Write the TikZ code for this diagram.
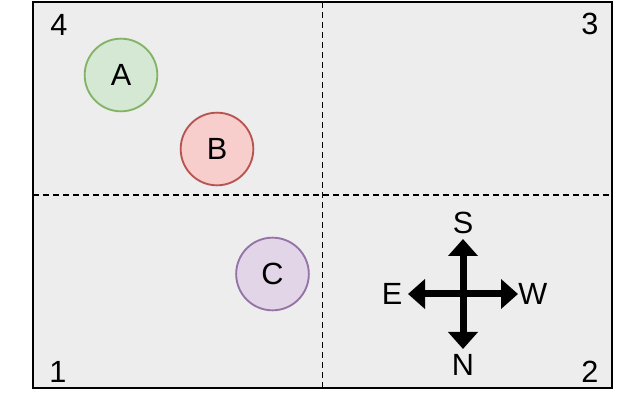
\documentclass[tikz,border=0pt]{standalone}
\usepackage{fontspec}
\setmainfont{Liberation Sans}
\usepackage{xcolor}
\usetikzlibrary{positioning}
\usetikzlibrary{arrows.meta}

\definecolor{fieldgray}{HTML}{EDEDED}
\definecolor{greenfill}{HTML}{D5E8D4}
\definecolor{greendraw}{HTML}{82B366}
\definecolor{redfill}{HTML}{F8CECC}
\definecolor{reddraw}{HTML}{B85450}
\definecolor{purplefill}{HTML}{E1D5E7}
\definecolor{purpledraw}{HTML}{9673A6}

\tikzset{
  obj/.style={circle, line width=1.4pt, minimum size=54.5pt, inner sep=0pt,
    font=\fontsize{23}{27}\selectfont},
  lbl/.style={inner sep=0pt, font=\fontsize{23}{27}\selectfont},
  divider/.style={dash pattern=on 4.5pt off 3pt, line width=1.1pt},
  compass/.style={line width=5.25pt,
    {Triangle[length=12.75pt,width=21.75pt]}-{Triangle[length=12.75pt,width=21.75pt]}},
}

\begin{document}
\begin{tikzpicture}[x=0.75pt, y=-0.75pt]
\useasboundingbox (0,0) rectangle (640,417);

% the field and its four quadrants
\draw[fill=fieldgray, line width=1.5pt] (33,2) rectangle (612,388);
\draw[divider] (322.5,2) -- (322.5,388);
\draw[divider] (33,195) -- (612,195);

% quadrant numbers
\node[lbl] (q4) at (59, 25)  {4};
\node[lbl] (q3) at (590, 24) {3};
\node[lbl] (q1) at (58, 372) {1};
\node[lbl] (q2) at (590, 372) {2};

% objects
\node[obj, draw=greendraw, fill=greenfill]   (objA) at (121, 75)  {A};
\node[obj, draw=reddraw, fill=redfill]       (objB) at (217, 149) {B};
\node[obj, draw=purpledraw, fill=purplefill] (objC) at (272.5, 274) {C};

% compass
\coordinate (sTip) at (463, 239);
\coordinate (nTip) at (463, 349);
\coordinate (eTip) at (408, 294);
\coordinate (wTip) at (518, 294);
\draw[compass] (nTip) -- (sTip);
\draw[compass] (eTip) -- (wTip);
\node[lbl, above=4pt of sTip] (S) {S};
\node[lbl, below=4pt of nTip] (N) {N};
\node[lbl, left=4pt of eTip]  (E) {E};
\node[lbl, right=0pt of wTip] (W) {W};

\end{tikzpicture}
\end{document}
